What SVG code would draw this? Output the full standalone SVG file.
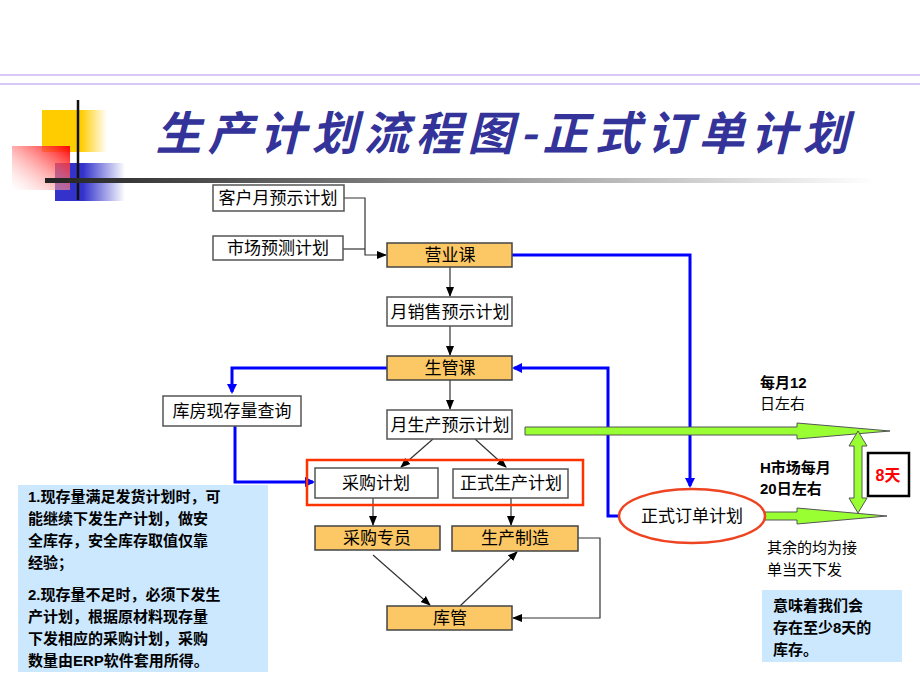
<svg xmlns="http://www.w3.org/2000/svg" width="920" height="690" viewBox="0 0 920 690">
<defs>
<style>
text{font-family:"Liberation Sans","Noto Sans CJK SC",sans-serif;font-size:17px;fill:#000}
.box{fill:#fff;stroke:#555;stroke-width:1.5}
.org{fill:#fcc765;stroke:#444;stroke-width:1.5}
.c{text-anchor:middle}
.bl{fill:none;stroke:#0000ff;stroke-width:3}
.k{fill:none;stroke:#333;stroke-width:1.2}
.b{font-weight:bold}
</style>
<marker id="ak" markerWidth="10" markerHeight="10" refX="9" refY="5" orient="auto" markerUnits="userSpaceOnUse"><path d="M0,1 L10,5 L0,9z" fill="#000"/></marker>
<marker id="ab" markerWidth="12" markerHeight="12" refX="8" refY="6" orient="auto" markerUnits="userSpaceOnUse"><path d="M0,1 L10,6 L0,11z" fill="#0000ff"/></marker>
<linearGradient id="gy" x1="0" x2="1"><stop offset="0.6" stop-color="#ffcc00"/><stop offset="1" stop-color="#fff"/></linearGradient>
<linearGradient id="gb" x1="0" x2="1"><stop offset="0.4" stop-color="#3333cc"/><stop offset="1" stop-color="#fff"/></linearGradient>
<linearGradient id="gr" x1="1" y1="0" x2="0" y2="1"><stop offset="0" stop-color="#ff0000"/><stop offset="1" stop-color="#fff" stop-opacity="0.3"/></linearGradient>
<linearGradient id="gl" x1="0" x2="1"><stop offset="0" stop-color="#222"/><stop offset="1" stop-color="#fff"/></linearGradient>
</defs>
<rect width="920" height="690" fill="#fff"/>
<line x1="0" y1="75" x2="920" y2="75" stroke="#d8c8f8" stroke-width="2"/>
<line x1="0" y1="84" x2="920" y2="84" stroke="#d8c8f8" stroke-width="2"/>
<rect x="42" y="110" width="65" height="42" fill="url(#gy)"/>
<rect x="55" y="163" width="70" height="38" fill="url(#gb)"/>
<rect x="12" y="146" width="58" height="44" fill="url(#gr)"/>
<line x1="78" y1="100" x2="78" y2="200" stroke="#111" stroke-width="2.5"/>
<rect x="45" y="178" width="830" height="5" fill="url(#gl)"/>
<text x="505" y="150" class="c b" style="font-size:46px;fill:#333399;letter-spacing:6px;font-family:'Noto Sans CJK SC',sans-serif;font-style:italic">生产计划流程图-正式订单计划</text>

<rect x="18" y="485" width="250" height="187" fill="#cce8ff"/>
<g class="b" style="font-size:15px">
<text x="28" y="502" style="font-size:15px">1.现存量满足发货计划时，可</text>
<text x="28" y="524" style="font-size:15px">能继续下发生产计划，做安</text>
<text x="28" y="546" style="font-size:15px">全库存，安全库存取值仅靠</text>
<text x="28" y="568" style="font-size:15px">经验；</text>
<text x="28" y="600" style="font-size:15px">2.现存量不足时，必须下发生</text>
<text x="28" y="622" style="font-size:15px">产计划，根据原材料现存量</text>
<text x="28" y="644" style="font-size:15px">下发相应的采购计划，采购</text>
<text x="28" y="666" style="font-size:15px">数量由ERP软件套用所得。</text>
</g>
<rect x="762" y="590" width="140" height="72" fill="#cce8ff"/>
<g class="b">
<text x="773" y="611" style="font-size:15px">意味着我们会</text>
<text x="773" y="633" style="font-size:15px">存在至少8天的</text>
<text x="773" y="655" style="font-size:15px">库存。</text>
</g>

<g id="connectors">
<path class="k" d="M344,198 H365 V255 H386" marker-end="url(#ak)"/>
<path class="k" d="M343,249 H365"/>
<path class="k" d="M450,267 V296" marker-end="url(#ak)"/>
<path class="k" d="M450,326 V355" marker-end="url(#ak)"/>
<path class="k" d="M450,380 V409" marker-end="url(#ak)"/>
<path class="k" d="M433,439 L401,467" marker-end="url(#ak)"/>
<path class="k" d="M475,439 L506,467" marker-end="url(#ak)"/>
<path class="k" d="M373,498 V525" marker-end="url(#ak)"/>
<path class="k" d="M511,498 V525" marker-end="url(#ak)"/>
<path class="k" d="M373,555 L430,605" marker-end="url(#ak)"/>
<path class="k" d="M460,606 L517,552" marker-end="url(#ak)"/>
<path class="k" d="M578,538 H600 V618 H513" marker-end="url(#ak)"/>
<path class="bl" d="M512,255 H690 V486" marker-end="url(#ab)"/>
<path class="bl" d="M620,516 H608 V368 H514" marker-end="url(#ab)"/>
<path class="bl" d="M387,368 H232 V392" marker-end="url(#ab)"/>
<path class="bl" d="M235,426 V482 H313" marker-end="url(#ab)"/>
<path d="M525,427 H797 V423 L890,431 L797,439 V435 H525Z" fill="#99ff33" stroke="#555" stroke-width="1"/>
<path d="M765,512 H797 V508 L887,516 L797,524 V520 H765Z" fill="#99ff33" stroke="#555" stroke-width="1"/>
<path d="M858,431 L867,446 H862 V498 H867 L858,513 L849,498 H854 V446 H849Z" fill="#99ff33" stroke="#555" stroke-width="1"/>
</g>

<g id="n1"><rect class="box" x="213" y="185" width="131" height="26"/><text class="c" x="278" y="204">客户月预示计划</text></g>
<g id="n2"><rect class="box" x="213" y="236" width="130" height="24"/><text class="c" x="278" y="254">市场预测计划</text></g>
<g id="n3"><rect class="org" x="387" y="243" width="125" height="24"/><text class="c" x="450" y="261">营业课</text></g>
<g id="n4"><rect class="box" x="387" y="297" width="125" height="29"/><text class="c" x="450" y="318">月销售预示计划</text></g>
<g id="n5"><rect class="org" x="387" y="356" width="125" height="24"/><text class="c" x="450" y="374">生管课</text></g>
<g id="n6"><rect class="box" x="163" y="396" width="138" height="30"/><text class="c" x="232" y="417">库房现存量查询</text></g>
<g id="n7"><rect class="box" x="387" y="410" width="125" height="29"/><text class="c" x="450" y="431">月生产预示计划</text></g>
<g id="grp"><rect x="307" y="460" width="276" height="45" fill="none" stroke="#ff3300" stroke-width="2.5"/></g>
<g id="n8"><rect class="box" x="315" y="468" width="123" height="30"/><text class="c" x="376" y="489">采购计划</text></g>
<g id="n9"><rect class="box" x="453" y="469" width="115" height="29"/><text class="c" x="511" y="489">正式生产计划</text></g>
<g id="n10"><rect class="org" x="315" y="526" width="125" height="24"/><text class="c" x="377" y="544">采购专员</text></g>
<g id="n11"><rect class="org" x="452" y="526" width="126" height="25"/><text class="c" x="515" y="544">生产制造</text></g>
<g id="n12"><rect class="org" x="387" y="606" width="125" height="24"/><text class="c" x="450" y="624">库管</text></g>
<g id="n13"><ellipse cx="692" cy="516" rx="73" ry="27" fill="#fff" stroke="#ee4422" stroke-width="2.5"/><text class="c" x="692" y="522">正式订单计划</text></g>
<g id="n14"><rect x="868" y="453" width="41" height="43" fill="#fff" stroke="#000" stroke-width="2.5"/><text class="c b" x="888" y="481" style="fill:#ff0000;font-size:16px">8天</text></g>

<g>
<text x="760" y="388" class="b" style="font-size:15px">每月12</text>
<text x="760" y="409" style="font-size:15px">日左右</text>
<text x="760" y="473" class="b" style="font-size:15px">H市场每月</text>
<text x="760" y="494" class="b" style="font-size:15px">20日左右</text>
<text x="767" y="553" style="font-size:15px">其余的均为接</text>
<text x="767" y="575" style="font-size:15px">单当天下发</text>
</g>
</svg>
